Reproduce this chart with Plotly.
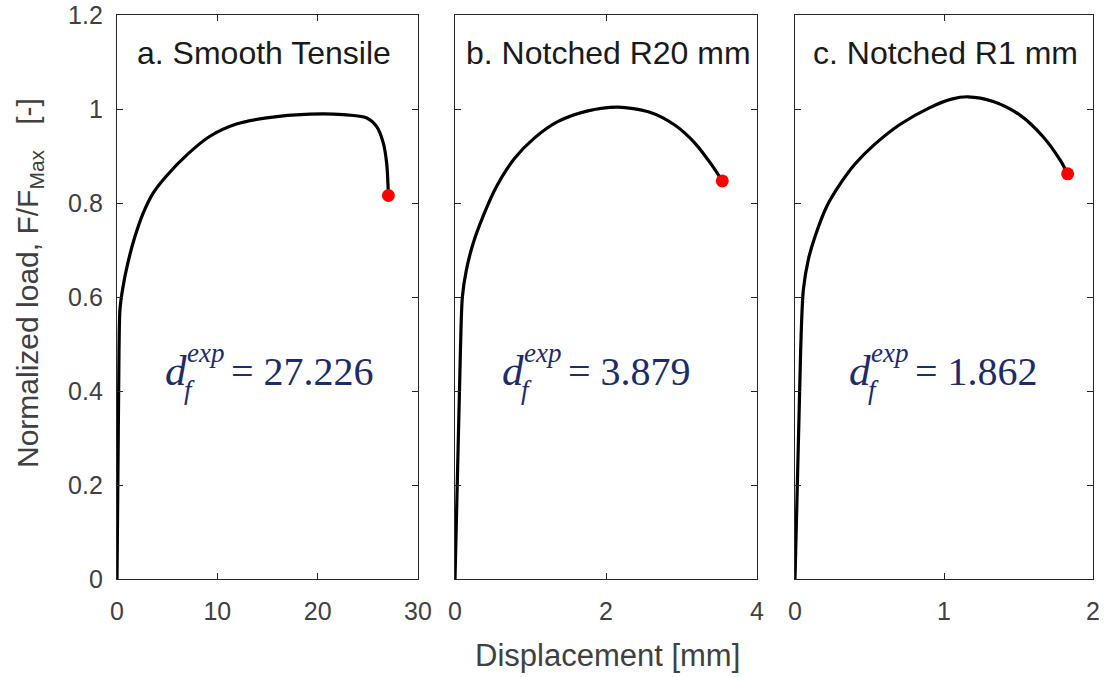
import plotly.graph_objects as go
from plotly.subplots import make_subplots

# ---------------- data ----------------
a_x = [0, 0.2, 0.3, 0.6, 1.1, 1.78, 2.6, 3.6, 4.95, 7.1, 9.26, 11.9, 14.9, 19.2, 22.56, 24.9, 25.9, 26.55, 26.88, 27.05]
a_y = [0, 0.487, 0.575, 0.622, 0.674, 0.728, 0.778, 0.821, 0.858, 0.905, 0.942, 0.968, 0.981, 0.989, 0.988, 0.981, 0.962, 0.927, 0.884, 0.816]

b_x = [0, 0.072, 0.098, 0.15, 0.24, 0.37, 0.55, 0.79, 1.05, 1.36, 1.76, 2.16, 2.56, 2.91, 3.18, 3.40, 3.54]
b_y = [0, 0.487, 0.601, 0.657, 0.714, 0.771, 0.835, 0.895, 0.938, 0.973, 0.996, 1.004, 0.994, 0.966, 0.927, 0.881, 0.847]

c_x = [0, 0.038, 0.056, 0.089, 0.134, 0.212, 0.302, 0.40, 0.525, 0.704, 0.905, 1.05, 1.16, 1.33, 1.51, 1.665, 1.78, 1.83]
c_y = [0, 0.487, 0.615, 0.679, 0.728, 0.792, 0.840, 0.882, 0.922, 0.967, 1.003, 1.021, 1.026, 1.016, 0.987, 0.941, 0.891, 0.862]

titles = ["a. Smooth Tensile", "b. Notched R20 mm", "c. Notched R1 mm"]
df_values = ["27.226", "3.879", "1.862"]
x_ranges = [[0, 30], [0, 4], [0, 2]]
x_ticks = [[0, 10, 20, 30], [0, 2, 4], [0, 1, 2]]
y_ticks = [0, 0.2, 0.4, 0.6, 0.8, 1.0, 1.2]
y_ticklabels = ["0", "0.2", "0.4", "0.6", "0.8", "1", "1.2"]

W, H = 1107, 677
def px(x):
    return x / W
def py(y):
    return 1 - y / H

fig = make_subplots(rows=1, cols=3)

series = [(a_x, a_y), (b_x, b_y), (c_x, c_y)]
for i, (xs, ys) in enumerate(series):
    fig.add_trace(go.Scatter(x=xs, y=ys, mode="lines",
                             line=dict(color="black", width=3.2, shape="spline", smoothing=0.8),
                             showlegend=False, hoverinfo="skip"), row=1, col=i + 1)
    fig.add_trace(go.Scatter(x=[xs[-1]], y=[ys[-1]], mode="markers", marker=dict(color="#ff0000", size=13),
                             showlegend=False), row=1, col=i + 1)

# panel layout (pixels in the reference)
x_dom_px = [(117, 418), (455, 757), (795, 1093)]
y_top, y_bot = 15, 579

axis_color = "#262626"
tick_font = dict(family="Liberation Sans, Arial", size=25, color="#404040")
for i in range(3):
    xa = "xaxis" if i == 0 else f"xaxis{i+1}"
    ya = "yaxis" if i == 0 else f"yaxis{i+1}"
    fig.layout[xa].update(domain=[px(x_dom_px[i][0]), px(x_dom_px[i][1])], range=x_ranges[i],
                          tickvals=x_ticks[i], showline=True, linecolor=axis_color, linewidth=1.3,
                          mirror="ticks", ticks="inside", ticklen=6, tickcolor=axis_color, tickwidth=1.2,
                          showgrid=False, zeroline=False, tickfont=tick_font, ticklabelstandoff=10,
                          automargin=False)
    fig.layout[ya].update(domain=[py(y_bot), py(y_top)], range=[0, 1.2], tickvals=y_ticks,
                          ticktext=y_ticklabels, showticklabels=(i == 0),
                          showline=True, linecolor=axis_color, linewidth=1.3,
                          mirror="ticks", ticks="inside", ticklen=6, tickcolor=axis_color, tickwidth=1.2,
                          showgrid=False, zeroline=False, tickfont=tick_font, ticklabelstandoff=8,
                          automargin=False)

annotations = []
title_cx = [264, 608, 945]
for i in range(3):
    annotations.append(dict(text=titles[i], x=px(title_cx[i]), y=py(53), xref="paper", yref="paper",
                            showarrow=False, xanchor="center", yanchor="middle",
                            font=dict(family="Liberation Sans, Arial", size=32, color="#1a1a1a")))

navy = "#1d2b6b"
serif = "Liberation Serif, Times New Roman"
d_left = [163, 500, 847]
for i in range(3):
    x0 = d_left[i]
    annotations.append(dict(text="<i>d</i>", x=px(x0), y=py(370), xref="paper", yref="paper", showarrow=False,
                            xanchor="left", yanchor="middle", font=dict(family=serif, size=43, color=navy)))
    annotations.append(dict(text="<i>exp</i>", x=px(x0 + 22), y=py(353), xref="paper", yref="paper", showarrow=False,
                            xanchor="left", yanchor="middle", font=dict(family=serif, size=27, color=navy)))
    annotations.append(dict(text="<i>f</i>", x=px(x0 + 19), y=py(390), xref="paper", yref="paper", showarrow=False,
                            xanchor="left", yanchor="middle", font=dict(family=serif, size=27, color=navy)))
    annotations.append(dict(text="= " + df_values[i], x=px(x0 + 66), y=py(371), xref="paper", yref="paper",
                            showarrow=False, xanchor="left", yanchor="middle",
                            font=dict(family=serif, size=40, color=navy)))

annotations.append(dict(text="Displacement [mm]", x=px(607), y=py(655), xref="paper", yref="paper",
                        showarrow=False, xanchor="center", yanchor="middle",
                        font=dict(family="Liberation Sans, Arial", size=31, color="#404040")))
annotations.append(dict(text="Normalized load, F/F<sub>Max</sub>&nbsp;&nbsp;&nbsp;[-]", x=px(30), y=py(283),
                        xref="paper", yref="paper", showarrow=False, textangle=-90,
                        xanchor="center", yanchor="middle",
                        font=dict(family="Liberation Sans, Arial", size=30, color="#404040")))

fig.update_layout(width=W, height=H, margin=dict(l=0, r=0, t=0, b=0, autoexpand=False), plot_bgcolor="white",
                  paper_bgcolor="white", annotations=annotations)

fig.write_html("out.html", config={"displayModeBar": False},
               post_script="document.body.style.margin='0';document.body.style.overflow='hidden';")
